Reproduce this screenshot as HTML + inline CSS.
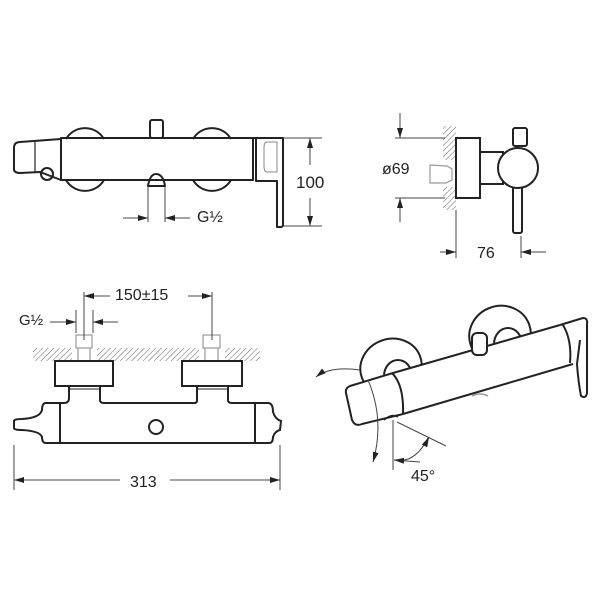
<!DOCTYPE html>
<html><head><meta charset="utf-8"><style>
html,body{margin:0;padding:0;background:#fff;width:600px;height:600px;overflow:hidden}
text{font-family:"Liberation Sans",sans-serif;fill:#222}
</style></head><body>
<svg width="600" height="600" viewBox="0 0 600 600" xmlns="http://www.w3.org/2000/svg">
<defs>
<pattern id="h" width="4" height="4" patternUnits="userSpaceOnUse" patternTransform="rotate(45)">
<line x1="0" y1="0" x2="0" y2="4" stroke="#666" stroke-width="1"/></pattern>
<marker id="a" viewBox="0 0 10 6" refX="10" refY="3" markerWidth="10" markerHeight="6" orient="auto" markerUnits="userSpaceOnUse"><path d="M0,0L10,3L0,6z" fill="#222"/></marker>
</defs>
<g fill="none" stroke="#222" stroke-width="2" stroke-linejoin="round">
<!-- TOP VIEW -->
<path d="M66,139 A22,22 0 0 1 104,139"/>
<path d="M66,180 A22,22 0 0 0 104,180"/>
<path d="M193,139 A22,22 0 0 1 231,139"/>
<path d="M193,180 A22,22 0 0 0 231,180"/>
<rect x="61" y="138" width="192" height="42"/>
<path d="M61,139 L20,142 Q14,142 14,148 L14,170 Q15,173 20,173 L40,172 L61,180"/>
<line x1="35" y1="142" x2="35" y2="172" stroke-width="1.2"/>
<circle cx="47" cy="174" r="6"/>
<rect x="150" y="120" width="13" height="18" rx="2"/>
<path d="M148,186 Q150,174 156,174 Q163,174 165,186 Z"/>
<path d="M253,138 L283,138 L283,225 Q283,227 280,227 L277,227 L277,181 L256,181 L256,138"/>
<path d="M267,142 L277,142 L277,172 L267,172 Q264,172 264,166 L264,148 Q264,142 267,142" stroke="#888" stroke-width="1"/>
</g>
<g stroke="#444" stroke-width="1" fill="none">
<line x1="284" y1="138" x2="322" y2="138"/><line x1="284" y1="226" x2="322" y2="226"/>
<line x1="310" y1="165" x2="310" y2="138" marker-end="url(#a)"/>
<line x1="310" y1="198" x2="310" y2="226" marker-end="url(#a)"/>
<line x1="148" y1="187" x2="148" y2="222"/><line x1="165" y1="187" x2="165" y2="222"/>
<line x1="123" y1="218" x2="148" y2="218" marker-end="url(#a)"/>
<line x1="190" y1="218" x2="165" y2="218" marker-end="url(#a)"/>
</g>
<text x="296" y="188" font-size="17">100</text>
<text x="197" y="222" font-size="16">G½</text>

<!-- SIDE VIEW -->
<rect x="443" y="126" width="13" height="84" fill="url(#h)"/>
<rect x="443" y="160" width="13" height="27" fill="#fff"/>
<path d="M430,165 L447,166 L452,169 L452,180 L446,183 L430,183 Z" fill="none" stroke="#999" stroke-width="1.2"/>
<g fill="#fff" stroke="#222" stroke-width="2">
<rect x="456" y="138" width="24" height="60"/>
<rect x="480" y="152" width="23" height="32"/>
<rect x="513" y="128" width="14" height="18" rx="2"/>
<rect x="513" y="186" width="9" height="47" rx="2"/>
<circle cx="518" cy="168" r="20"/>
</g>
<g stroke="#444" stroke-width="1" fill="none">
<line x1="395" y1="138" x2="445" y2="138"/><line x1="395" y1="198" x2="445" y2="198"/>
<line x1="400" y1="113" x2="400" y2="138" marker-end="url(#a)"/>
<line x1="400" y1="222" x2="400" y2="198" marker-end="url(#a)"/>
<line x1="456" y1="210" x2="456" y2="258"/><line x1="521" y1="236" x2="521" y2="258"/>
<line x1="440" y1="252" x2="456" y2="252" marker-end="url(#a)"/>
<line x1="546" y1="252" x2="521" y2="252" marker-end="url(#a)"/>
</g>
<text x="382" y="174" font-size="16">ø69</text>
<text x="477" y="258" font-size="16">76</text>

<!-- FRONT VIEW -->
<rect x="33" y="348" width="227" height="13" fill="url(#h)"/>
<rect x="72" y="345" width="25" height="16" fill="#fff"/>
<rect x="199" y="345" width="26" height="16" fill="#fff"/>
<g stroke="#999" stroke-width="1.2" fill="none">
<rect x="76" y="335" width="16" height="13"/><line x1="78" y1="348" x2="78" y2="361"/><line x1="90" y1="348" x2="90" y2="361"/>
<rect x="203" y="335" width="17" height="13"/><line x1="205" y1="348" x2="205" y2="361"/><line x1="218" y1="348" x2="218" y2="361"/>
</g>
<g fill="none" stroke="#222" stroke-width="2">
<rect x="55" y="361" width="58" height="25"/>
<rect x="182" y="361" width="60" height="25"/>
<path d="M69,386 L69,398 Q69,403 64,403 L60,403 M100,386 L100,400 Q100,403 104,403 L195,403 Q197,403 197,400 L197,386 M228,386 L228,400 Q228,403 232,403 L255,403"/>
<line x1="69" y1="389" x2="100" y2="389" stroke-width="1"/><line x1="197" y1="389" x2="228" y2="389" stroke-width="1"/>
<line x1="60" y1="403" x2="60" y2="443"/><line x1="255" y1="403" x2="255" y2="443"/>
<path d="M60,403 L45,403 Q42,404 42,410 Q40,418 22,419 Q14,419 14,421 L14,428 Q14,430 22,430 Q40,431 42,437 Q42,443 46,443 L269,443 Q273,443 273,437 Q275,431 280,430 L281,421 Q275,419 273,412 Q273,403 268,403 L255,403"/>
<circle cx="156" cy="427" r="7"/>
</g>
<g stroke="#444" stroke-width="1" fill="none">
<line x1="14" y1="445" x2="14" y2="490"/><line x1="280" y1="445" x2="280" y2="490"/>
<line x1="120" y1="480" x2="14" y2="480" marker-end="url(#a)"/>
<line x1="170" y1="480" x2="280" y2="480" marker-end="url(#a)"/>
<line x1="84" y1="292" x2="84" y2="340"/><line x1="212" y1="292" x2="212" y2="340"/>
<line x1="110" y1="296" x2="84" y2="296" marker-end="url(#a)"/>
<line x1="188" y1="296" x2="212" y2="296" marker-end="url(#a)"/>
<line x1="76" y1="310" x2="76" y2="333"/><line x1="93" y1="310" x2="93" y2="333"/>
<line x1="50" y1="322" x2="76" y2="322" marker-end="url(#a)"/>
<line x1="118" y1="322" x2="93" y2="322" marker-end="url(#a)"/>
</g>
<text x="130" y="487" font-size="16">313</text>
<text x="115" y="300" font-size="16">150±15</text>
<text x="19" y="325" font-size="15">G½</text>

<!-- PERSPECTIVE -->
<g fill="#fff" stroke="#222" stroke-width="2">
<ellipse cx="391" cy="367" rx="31" ry="28" transform="rotate(-20 391 367)"/>
<ellipse cx="500" cy="335" rx="31" ry="29" transform="rotate(-20 500 335)"/>
<ellipse cx="398" cy="376" rx="14" ry="16"/>
<ellipse cx="508" cy="344" rx="14" ry="16"/>
</g>
<path d="M350,386 L560,325 L575,334 L578,357 L573,365 L362,424 L352,420 Z" fill="#fff" stroke="none"/>
<g fill="none" stroke="#222" stroke-width="2" stroke-linejoin="round">
<path d="M393,373 L560,325"/>
<path d="M403,414 L573,364"/>
<path d="M393,373 L350,386 Q345,388 346,393 L352,420 Q355,427 362,424 L403,414"/>
<path d="M392,373 Q404,385 403,414"/>
<path d="M563,325 Q572,340 570,363"/>
<path d="M560,325 L583,318 Q588,318 587,324 L587,393 Q586,399 581,396 Q578,380 577,364 L580,340"/>
<rect x="472" y="333" width="15" height="22" rx="5" fill="#fff"/>
<path d="M384,420 Q392,413 398,417" stroke-width="1.5"/>
<path d="M472,396 Q480,392 488,396" stroke="#999" stroke-width="1.5"/>
</g>
<g stroke="#444" stroke-width="1" fill="none">
<path d="M360,370 Q330,366 316,377" marker-end="url(#a)"/>
<path d="M368,380 Q385,420 373,462" marker-end="url(#a)"/>
<line x1="393" y1="420" x2="393" y2="470"/>
<line x1="397" y1="422" x2="446" y2="446"/>
<path d="M394,460 Q415,464 428,438" />
<path d="M420,462 L394,460" marker-end="url(#a)"/>
<path d="M425,445 L429,437" marker-end="url(#a)"/>
</g>
<text x="411" y="481" font-size="16">45°</text>
</svg>
</body></html>
